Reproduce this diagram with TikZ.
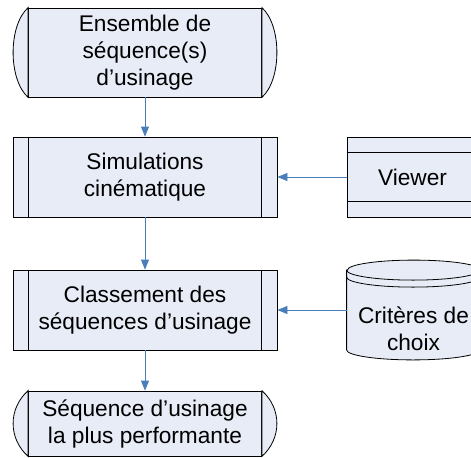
\documentclass[tikz,border=0pt]{standalone}
\usepackage{fontspec}
\setmainfont{Liberation Sans}
\usetikzlibrary{arrows.meta,calc}
\definecolor{boxfill}{RGB}{231,236,247}
\definecolor{flowblue}{RGB}{74,126,187}

\begin{document}
\begin{tikzpicture}[x=0.75pt, y=-0.75pt, line width=0.6pt,
  every node/.style = {shape=rectangle, align=center,
    font=\fontsize{17}{20.25}\selectfont},
  procbox/.style = {draw, fill=boxfill, minimum width=198pt, minimum height=60pt},
  termbox/.style = {draw, fill=boxfill, minimum width=174.75pt},
  storebox/.style = {draw, fill=boxfill, minimum width=98.25pt, minimum height=60pt},
  flowarrow/.style = {draw=flowblue, -{Triangle[length=7.5pt,width=6pt]}}]
  \useasboundingbox (0,0) rectangle (471,457);
  \clip (0,0) rectangle (471,457);

  \node[termbox, minimum height=66.75pt] (ensemble) at (145,52.5)
    {Ensemble de\\séquence(s)\\d’usinage};
  \node[procbox] (simul) at (145,177) {Simulations\\cinématique};
  \node[procbox] (classement) at (145,310) {Classement des\\séquences d’usinage};
  \node[termbox, minimum height=48.75pt] (meilleure) at (145,423.5)
    {Séquence d’usinage\\la plus performante};
  \node[storebox] (viewer) at (412.5,177) {Viewer};
  \node[minimum width=99.75pt, minimum height=74.25pt] (crit) at (413.5,310) {};

  % bouts arrondis
  \foreach \nm in {ensemble, meilleure} {
    \filldraw[fill=boxfill] (\nm.north east) .. controls ($(\nm.north east)+(20,18)$)
      and ($(\nm.south east)+(20,-18)$) .. (\nm.south east) -- cycle;
    \filldraw[fill=boxfill] (\nm.north west) .. controls ($(\nm.north west)+(-20,18)$)
      and ($(\nm.south west)+(-20,-18)$) .. (\nm.south west) -- cycle;
  }
  % traits verticaux
  \foreach \nm in {simul, classement} {
    \draw ($(\nm.north west)+(16,0)$) -- ($(\nm.south west)+(16,0)$);
    \draw ($(\nm.north east)+(-16,0)$) -- ($(\nm.south east)+(-16,0)$);
  }
  \draw ($(viewer.north west)+(0,16)$) -- ($(viewer.north east)+(0,16)$);
  \draw ($(viewer.south west)+(0,-16)$) -- ($(viewer.south east)+(0,-16)$);

  % cylindre
  \filldraw[fill=boxfill] ($(crit.north west)+(0,10)$) -- ($(crit.south west)+(0,-10)$)
    arc[start angle=180, end angle=0, x radius=66.5, y radius=10]
    -- ($(crit.north east)+(0,10)$)
    arc[start angle=0, end angle=-180, x radius=66.5, y radius=10] -- cycle;
  \draw ($(crit.north west)+(0,10)$) arc[start angle=180, end angle=0, x radius=66.5, y radius=10];
  \draw ($(crit.north west)+(0,17)$) arc[start angle=180, end angle=0, x radius=66.5, y radius=10];
  \node (critlabel) at ($(crit.center)+(0,19)$) {Critères de\\choix};

  \draw[flowarrow] (ensemble.south) -- (simul.north);
  \draw[flowarrow] (simul.south) -- (classement.north);
  \draw[flowarrow] (classement.south) -- (meilleure.north);
  \draw[flowarrow] (viewer.west) -- (simul.east);
  \draw[flowarrow] (crit.west) -- (classement.east);
\end{tikzpicture}
\end{document}
